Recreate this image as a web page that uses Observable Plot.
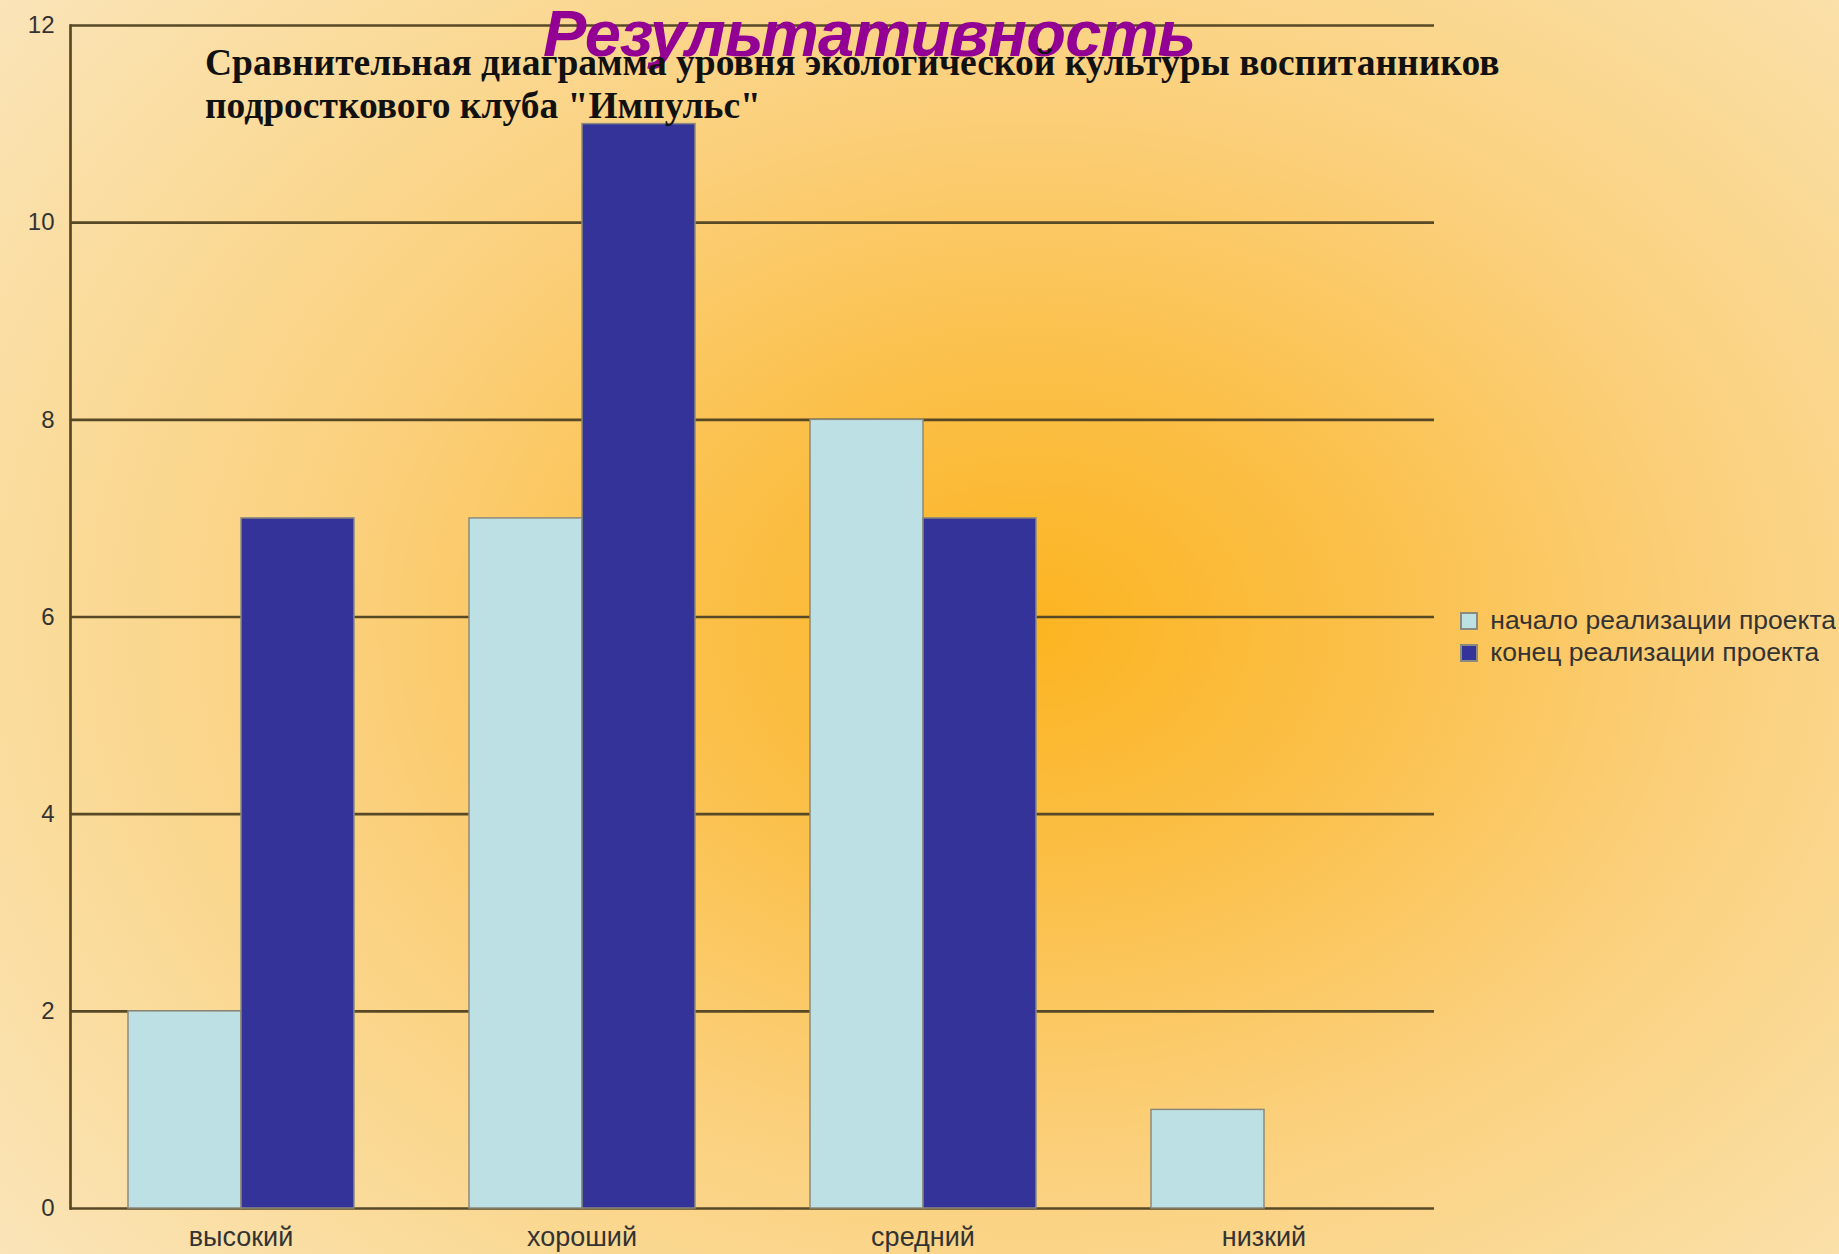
<!DOCTYPE html>
<html><head><meta charset="utf-8">
<script src="https://cdn.jsdelivr.net/npm/d3@7"></script>
<script src="https://cdn.jsdelivr.net/npm/@observablehq/plot@0.6"></script>
<style>
html,body{margin:0;padding:0;width:1839px;height:1254px;overflow:hidden}
body{background: radial-gradient(ellipse 75% 85% at 56% 50%, #fcb420 0%, #fbc04a 25%, #fbd07c 50%, #fadb9a 72%, #fae6bf 100%);}
#wrap{position:relative;width:1839px;height:1254px}
#chart{position:absolute;left:0;top:0}
#t1{position:absolute;left:543px;top:-4px;font-family:"Liberation Sans",Arial,sans-serif;font-weight:bold;font-style:italic;font-size:65px;line-height:76px;color:#930094;white-space:nowrap;letter-spacing:-0.8px}
#t2{position:absolute;left:205px;top:41px;font-family:"Liberation Serif","Times New Roman",serif;font-weight:bold;font-size:37.5px;line-height:43px;color:#111;white-space:nowrap}
#legend{position:absolute;left:1461px;top:605px}
#legend svg rect{stroke:#8a8a80;stroke-width:2px}
#legend span{line-height:31px !important}
</style></head><body>
<div id="wrap"><div id="chart"></div>
<div id="t1">Результативность</div>
<div id="t2">Сравнительная диаграмма уровня экологической культуры воспитанников<br>подросткового клуба "Импульс"</div>
<div id="legend"></div>
</div>
<script>
const categories = ["высокий", "хороший", "средний", "низкий"];
const seriesNames = ["начало реализации проекта", "конец реализации проекта"];
const startValues = [2, 7, 8, 1];
const endValues = [7, 11, 7, 0];
const yTicks = [0, 2, 4, 6, 8, 10, 12];
const seriesColors = ["#bde0e4", "#333399"];

const data = categories.flatMap((c, i) => [
  {category: c, series: seriesNames[0], value: startValues[i]},
  {category: c, series: seriesNames[1], value: endValues[i]}
]);

const chart = Plot.plot({
  width: 1839, height: 1254,
  marginLeft: 69, marginRight: 405, marginTop: 25, marginBottom: 46,
  style: {background: "transparent", fontFamily: "Liberation Sans, Arial, sans-serif", fontSize: "24px", color: "#333"},
  fx: {domain: categories, paddingInner: 0, paddingOuter: 0, label: null},
  x: {domain: seriesNames, paddingInner: 0, paddingOuter: 0.5, axis: null},
  y: {domain: [0, 12], ticks: yTicks, label: null, tickSize: 0, tickPadding: 16},
  color: {domain: seriesNames, range: seriesColors},
  marks: [
    Plot.ruleY(yTicks, {stroke: "#574826", strokeWidth: 2.7}),
    Plot.frame({anchor: "left", facet: "super", stroke: "#574826", strokeWidth: 2.7}),
    Plot.barY(data, {fx: "category", x: "series", y: "value", fill: "series", stroke: "#8c8a7c", strokeWidth: 1.5}),
    Plot.axisFx({anchor: "bottom", label: null, tickSize: 0, tickPadding: 18, fontSize: 27})
  ]
});
document.getElementById("chart").appendChild(chart);
const leg = chart.legend("color", {legend: "swatches", columns: 1, swatchSize: 16, style: {fontSize: "26.5px", fontFamily: "Liberation Sans, Arial, sans-serif", color: "#333", background: "transparent"}});
document.getElementById("legend").appendChild(leg);
</script>
</body></html>
